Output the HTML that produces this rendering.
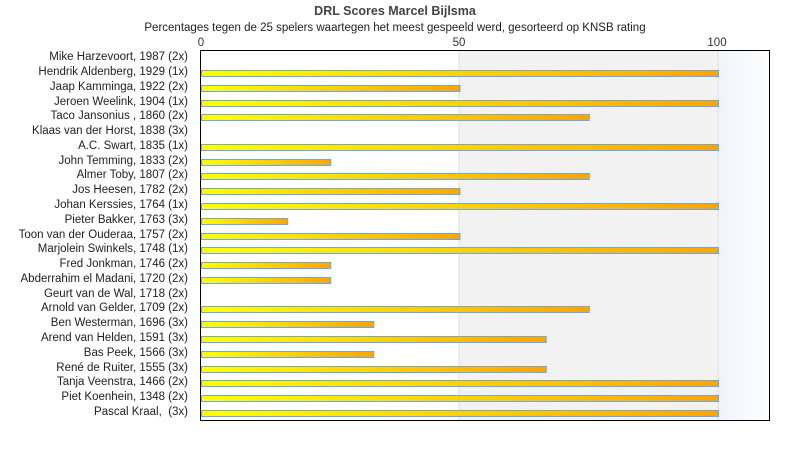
<!DOCTYPE html>
<html><head><meta charset="utf-8"><style>
body{margin:0;background:#fff;}
svg{display:block;font-family:"Liberation Sans",sans-serif;}
</style></head><body>
<svg width="790" height="450" viewBox="0 0 790 450">
<defs>
<linearGradient id="g" x1="0" x2="1" y1="0" y2="0"><stop offset="0" stop-color="#ffff00"/><stop offset="1" stop-color="#ffa500"/></linearGradient>
<linearGradient id="bg" x1="0" x2="1"><stop offset="0" stop-color="#f0f4fa"/><stop offset="1" stop-color="#fdfeff"/></linearGradient>
</defs>
<text x="395" y="15" text-anchor="middle" font-size="12.5" font-weight="bold" fill="#444">DRL Scores Marcel Bijlsma</text>
<text x="395" y="31" text-anchor="middle" font-size="11.5" fill="#222">Percentages tegen de 25 spelers waartegen het meest gespeeld werd, gesorteerd op KNSB rating</text>
<rect x="459" y="50" width="259" height="370" fill="#f2f2f2"/>
<rect x="718" y="50" width="52" height="370" fill="url(#bg)"/>
<line x1="459" y1="50" x2="459" y2="420" stroke="#e0e0e0"/>
<line x1="718" y1="50" x2="718" y2="420" stroke="#e0e0e0"/>
<text x="201" y="46" text-anchor="middle" font-size="11.5" fill="#333">0</text>
<text x="459" y="46" text-anchor="middle" font-size="11.5" fill="#333">50</text>
<text x="717" y="46" text-anchor="middle" font-size="11.5" fill="#333">100</text>
<g font-size="11.5" fill="#222" text-anchor="end">
<text x="188" y="60">Mike Harzevoort, 1987 (2x)</text>
<text x="188" y="75">Hendrik Aldenberg, 1929 (1x)</text>
<text x="188" y="90">Jaap Kamminga, 1922 (2x)</text>
<text x="188" y="105">Jeroen Weelink, 1904 (1x)</text>
<text x="188" y="119">Taco Jansonius , 1860 (2x)</text>
<text x="188" y="134">Klaas van der Horst, 1838 (3x)</text>
<text x="188" y="149">A.C. Swart, 1835 (1x)</text>
<text x="188" y="164">John Temming, 1833 (2x)</text>
<text x="188" y="178">Almer Toby, 1807 (2x)</text>
<text x="188" y="193">Jos Heesen, 1782 (2x)</text>
<text x="188" y="208">Johan Kerssies, 1764 (1x)</text>
<text x="188" y="223">Pieter Bakker, 1763 (3x)</text>
<text x="188" y="238">Toon van der Ouderaa, 1757 (2x)</text>
<text x="188" y="252">Marjolein Swinkels, 1748 (1x)</text>
<text x="188" y="267">Fred Jonkman, 1746 (2x)</text>
<text x="188" y="282">Abderrahim el Madani, 1720 (2x)</text>
<text x="188" y="297">Geurt van de Wal, 1718 (2x)</text>
<text x="188" y="311">Arnold van Gelder, 1709 (2x)</text>
<text x="188" y="326">Ben Westerman, 1696 (3x)</text>
<text x="188" y="341">Arend van Helden, 1591 (3x)</text>
<text x="188" y="356">Bas Peek, 1566 (3x)</text>
<text x="188" y="371">René de Ruiter, 1555 (3x)</text>
<text x="188" y="385">Tanja Veenstra, 1466 (2x)</text>
<text x="188" y="400">Piet Koenhein, 1348 (2x)</text>
<text x="188" y="415">Pascal Kraal, &#160;(3x)</text>
</g>
<g fill="url(#g)" stroke="#6aa8ea" stroke-width="1">
<rect x="201.5" y="70.5" width="517" height="6"/>
<rect x="201.5" y="85.5" width="258.5" height="6"/>
<rect x="201.5" y="100.5" width="517" height="6"/>
<rect x="201.5" y="114.5" width="387.75" height="6"/>
<rect x="201.5" y="144.5" width="517" height="6"/>
<rect x="201.5" y="159.5" width="129.25" height="6"/>
<rect x="201.5" y="173.5" width="387.75" height="6"/>
<rect x="201.5" y="188.5" width="258.5" height="6"/>
<rect x="201.5" y="203.5" width="517" height="6"/>
<rect x="201.5" y="218.5" width="86.2" height="6"/>
<rect x="201.5" y="233.5" width="258.5" height="6"/>
<rect x="201.5" y="247.5" width="517" height="6"/>
<rect x="201.5" y="262.5" width="129.25" height="6"/>
<rect x="201.5" y="277.5" width="129.25" height="6"/>
<rect x="201.5" y="306.5" width="387.75" height="6"/>
<rect x="201.5" y="321.5" width="172.3" height="6"/>
<rect x="201.5" y="336.5" width="344.7" height="6"/>
<rect x="201.5" y="351.5" width="172.3" height="6"/>
<rect x="201.5" y="366.5" width="344.7" height="6"/>
<rect x="201.5" y="380.5" width="517" height="6"/>
<rect x="201.5" y="395.5" width="517" height="6"/>
<rect x="201.5" y="410.5" width="517" height="6"/>
</g>
<rect x="200.5" y="50.5" width="569" height="370" fill="none" stroke="#000"/>
</svg>
</body></html>
